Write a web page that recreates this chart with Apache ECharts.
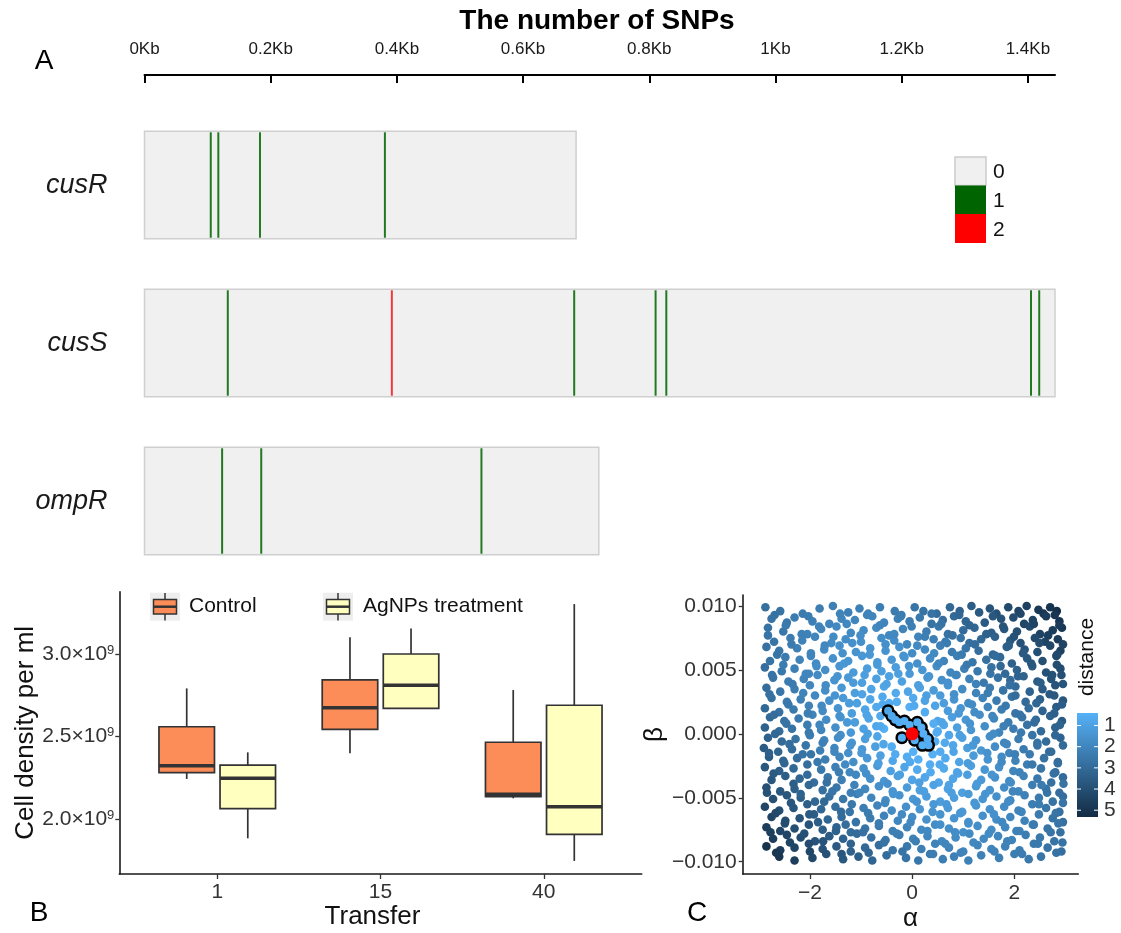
<!DOCTYPE html>
<html><head><meta charset="utf-8">
<script src="https://cdn.jsdelivr.net/npm/echarts@6/dist/echarts.min.js"></script>
<style>html,body{margin:0;padding:0;background:#fff}#c{width:1121px;height:933px}</style>
</head><body><div id="c"></div>
<script>
const FONT = '"Liberation Sans", Arial, Helvetica, sans-serif';
// ---------- Panel A : SNP positions ----------
const genes = ['cusR', 'cusS', 'ompR'];
const geneLengthKb = [0.684, 1.443, 0.720];
const snpGene = [0, 0, 0, 0, 1, 1, 1, 1, 1, 1, 1, 2, 2, 2];
const snpPosKb = [0.105, 0.117, 0.183, 0.381, 0.132, 0.392, 0.681, 0.810, 0.827, 1.405, 1.418, 0.123, 0.185, 0.534];
const snpCount = [1, 1, 1, 1, 1, 2, 1, 1, 1, 1, 1, 1, 1, 1];
const kbTicks = [0, 0.2, 0.4, 0.6, 0.8, 1.0, 1.2, 1.4];
const snpLevels = ['0', '1', '2'];
// ---------- Panel B : cell density boxplots [min, Q1, median, Q3, max] ----------
const transfers = ['1', '15', '40'];
const controlStats = [
  [2.244e9, 2.282e9, 2.324e9, 2.560e9, 2.792e9],
  [2.399e9, 2.544e9, 2.675e9, 2.843e9, 3.101e9],
  [2.127e9, 2.137e9, 2.151e9, 2.466e9, 2.782e9]
];
const agnpsStats = [
  [1.885e9, 2.064e9, 2.248e9, 2.328e9, 2.405e9],
  [2.671e9, 2.671e9, 2.811e9, 3.000e9, 3.155e9],
  [1.748e9, 1.909e9, 2.076e9, 2.690e9, 3.302e9]
];
const densityTicks = [2.0e9, 2.5e9, 3.0e9];
// ---------- Panel C : parameter search [alpha, beta, distance] ----------
const alphaTicks = [-2, 0, 2];
const betaTicks = [-0.01, -0.005, 0, 0.005, 0.01];
const distanceTicks = [1, 2, 3, 4, 5];
const distanceMin = 0.41, distanceMax = 5.32;
const searchPoints = [
[-2.87,0.0099,2.8],[-2.58,0.0096,2.7],[-2.14,0.0094,2.4],[-1.81,0.0098,2.3],[-1.55,0.0100,2.2],[-1.25,0.0095,2.2],[-1.03,0.0098,2.2],[-0.86,0.0094,2.2],[-0.63,0.0099,2.3],[-0.34,0.0096,2.4],[-0.21,0.0093,2.45],[0.05,0.0099,2.6],[0.22,0.0096,2.7],[0.48,0.0094,2.9],[0.74,0.0099,3.1],[0.93,0.0096,3.3],[1.16,0.0100,3.5],[1.31,0.0095,3.6],[1.52,0.0098,3.8],[1.65,0.0094,3.95],[1.88,0.0099,4.2],[2.08,0.0096,4.4],[2.24,0.0100,4.5],[2.47,0.0097,4.8],[2.57,0.0094,4.9],[2.70,0.0099,5.0],[2.83,0.0096,5.15],
[-2.75,0.0090,2.65],[-2.45,0.0087,2.5],[-2.30,0.0091,2.4],[-1.95,0.0088,2.2],[-1.62,0.0086,2.05],[-1.38,0.0090,2.0],[-1.12,0.0089,2.0],[-0.78,0.0092,2.0],[-0.55,0.0087,2.05],[-0.28,0.0090,2.2],[-0.05,0.0088,2.35],[0.15,0.0091,2.5],[0.38,0.0086,2.7],[0.60,0.0089,2.85],[0.82,0.0092,3.0],[1.05,0.0088,3.2],[1.42,0.0087,3.55],[1.74,0.0090,3.85],[1.98,0.0091,4.1],[2.19,0.0086,4.3],[2.36,0.0089,4.45],[2.62,0.0092,4.7],[2.88,0.0088,4.95],
[-2.82,0.0083,2.7],[-2.52,0.0080,2.5],[-2.05,0.0078,2.15],[-1.78,0.0082,2.0],[-1.48,0.0084,1.88],[-1.20,0.0079,1.85],[-0.95,0.0081,1.8],[-0.70,0.0083,1.85],[-0.45,0.0077,1.92],[-0.18,0.0082,2.05],[0.28,0.0080,2.35],[0.52,0.0084,2.55],[0.70,0.0078,2.7],[1.00,0.0081,2.95],[1.22,0.0083,3.15],[1.55,0.0079,3.45],[1.80,0.0082,3.7],[2.05,0.0080,4.0],[2.30,0.0084,4.2],[2.50,0.0078,4.45],[2.75,0.0081,4.7],[2.93,0.0083,4.85],
[-2.70,0.0072,2.6],[-2.38,0.0075,2.35],[-2.15,0.0073,2.15],[-1.90,0.0076,2.0],[-1.58,0.0071,1.8],[-1.30,0.0074,1.72],[-1.00,0.0072,1.65],[-0.60,0.0075,1.7],[-0.35,0.0073,1.78],[-0.10,0.0070,1.9],[0.12,0.0076,2.05],[0.42,0.0074,2.25],[0.65,0.0072,2.45],[0.95,0.0075,2.7],[1.12,0.0071,2.85],[1.35,0.0074,3.1],[1.62,0.0076,3.35],[1.92,0.0073,3.65],[2.12,0.0071,3.9],[2.40,0.0075,4.15],[2.60,0.0072,4.4],[2.85,0.0074,4.65],
[-2.85,0.0068,2.75],[-2.60,0.0065,2.55],[-2.25,0.0067,2.2],[-1.98,0.0063,2.0],[-1.72,0.0066,1.8],[-1.42,0.0069,1.63],[-1.10,0.0064,1.52],[-0.82,0.0067,1.48],[-0.52,0.0065,1.5],[-0.25,0.0068,1.6],[0.00,0.0063,1.75],[0.25,0.0066,1.92],[0.55,0.0069,2.2],[0.78,0.0064,2.38],[1.05,0.0067,2.6],[1.30,0.0065,2.85],[1.58,0.0062,3.13],[1.85,0.0068,3.42],[2.20,0.0066,3.8],[2.45,0.0064,4.05],[2.70,0.0069,4.3],[2.90,0.0065,4.5],
[-2.78,0.0057,2.7],[-2.48,0.0060,2.4],[-2.20,0.0058,2.1],[-1.88,0.0055,1.85],[-1.55,0.0059,1.6],[-1.25,0.0057,1.45],[-0.98,0.0061,1.33],[-0.68,0.0056,1.28],[-0.40,0.0058,1.33],[-0.15,0.0060,1.45],[0.10,0.0055,1.62],[0.35,0.0059,1.8],[0.62,0.0057,2.05],[0.88,0.0061,2.25],[1.18,0.0056,2.55],[1.45,0.0058,2.8],[1.72,0.0060,3.1],[1.95,0.0055,3.35],[2.25,0.0059,3.65],[2.55,0.0057,4.0],[2.82,0.0061,4.25],
[-2.88,0.0052,2.85],[-2.55,0.0049,2.5],[-2.30,0.0051,2.22],[-2.02,0.0047,1.98],[-1.70,0.0050,1.68],[-1.42,0.0053,1.45],[-1.15,0.0048,1.25],[-0.88,0.0051,1.15],[-0.60,0.0049,1.12],[-0.32,0.0052,1.15],[-0.05,0.0047,1.3],[0.20,0.0050,1.45],[0.48,0.0053,1.7],[0.75,0.0048,1.95],[1.02,0.0051,2.2],[1.28,0.0049,2.45],[1.55,0.0052,2.75],[1.82,0.0047,3.05],[2.05,0.0050,3.3],[2.35,0.0053,3.6],[2.62,0.0048,3.9],[2.90,0.0051,4.1],
[-2.72,0.0044,2.7],[-2.42,0.0041,2.35],[-2.12,0.0043,2.05],[-1.85,0.0046,1.8],[-1.52,0.0042,1.48],[-1.25,0.0044,1.28],[-0.98,0.0040,1.08],[-0.70,0.0043,1.0],[-0.45,0.0045,0.98],[-0.20,0.0041,1.0],[0.30,0.0044,1.36],[0.58,0.0042,1.62],[0.85,0.0046,1.88],[1.12,0.0043,2.15],[1.40,0.0040,2.45],[1.68,0.0044,2.75],[1.92,0.0042,3.0],[2.18,0.0045,3.28],[2.45,0.0041,3.55],[2.72,0.0043,3.85],[2.92,0.0046,4.0],
[-2.85,0.0036,2.9],[-2.58,0.0033,2.58],[-2.30,0.0035,2.28],[-2.00,0.0038,1.98],[-1.70,0.0034,1.68],[-1.38,0.0036,1.35],[-1.12,0.0032,1.12],[-0.80,0.0035,0.9],[-0.55,0.0037,0.85],[-0.08,0.0033,0.85],[0.15,0.0036,1.0],[0.42,0.0034,1.25],[0.70,0.0038,1.52],[0.98,0.0035,1.82],[1.25,0.0032,2.1],[1.52,0.0036,2.4],[1.78,0.0034,2.68],[2.02,0.0037,2.95],[2.30,0.0033,3.25],[2.55,0.0035,3.52],[2.80,0.0038,3.8],
[-2.75,0.0028,2.8],[-2.45,0.0025,2.45],[-2.18,0.0027,2.18],[-1.90,0.0030,1.88],[-1.62,0.0026,1.58],[-1.35,0.0028,1.3],[-1.08,0.0024,1.05],[-0.82,0.0027,0.85],[-0.58,0.0029,0.75],[-0.30,0.0025,0.6],[0.02,0.0028,0.7],[0.25,0.0026,0.92],[0.55,0.0030,1.22],[0.82,0.0027,1.48],[1.10,0.0024,1.78],[1.38,0.0028,2.08],[1.65,0.0026,2.38],[1.95,0.0029,2.72],[2.22,0.0025,3.0],[2.50,0.0027,3.35],[2.78,0.0030,3.62],[2.95,0.0026,3.75],
[-2.88,0.0020,3.07],[-2.60,0.0017,2.76],[-2.32,0.0019,2.44],[-2.02,0.0022,2.1],[-1.75,0.0018,1.8],[-1.45,0.0020,1.47],[-1.18,0.0016,1.16],[-0.92,0.0019,0.89],[-0.70,0.0021,0.72],[0.45,0.0022,0.9],[0.70,0.0018,1.17],[0.95,0.0020,1.43],[1.22,0.0017,1.74],[1.48,0.0021,2.03],[1.75,0.0019,2.33],[2.02,0.0016,2.64],[2.28,0.0020,2.93],[2.55,0.0018,3.25],[2.82,0.0021,3.55],
[-2.78,0.0013,3.05],[-2.50,0.0010,2.73],[-2.22,0.0012,2.41],[-1.95,0.0015,2.1],[-1.68,0.0011,1.78],[-1.40,0.0013,1.47],[-1.12,0.0009,1.16],[-0.85,0.0012,0.87],[-0.62,0.0014,0.68],[0.50,0.0010,0.8],[0.78,0.0013,1.1],[1.05,0.0011,1.41],[1.32,0.0015,1.72],[1.60,0.0012,2.03],[1.88,0.0009,2.36],[2.15,0.0013,2.66],[2.42,0.0011,2.98],[2.70,0.0014,3.3],[2.93,0.0010,3.55],
[-2.88,0.0005,3.27],[-2.60,0.0002,2.94],[-2.35,0.0004,2.66],[-2.05,0.0007,2.31],[-1.78,0.0003,2.0],[-1.50,0.0005,1.68],[-1.20,0.0001,1.33],[-0.95,0.0004,1.04],[-0.70,0.0006,0.8],[0.50,0.0002,0.67],[0.62,0.0007,0.8],[0.88,0.0005,1.08],[1.15,0.0003,1.39],[1.42,0.0006,1.7],[1.70,0.0001,2.03],[1.98,0.0004,2.34],[2.25,0.0007,2.65],[2.52,0.0002,2.97],[2.80,0.0005,3.3],
[-2.82,-0.0003,3.32],[-2.55,-0.0006,3.0],[-2.28,-0.0004,2.69],[-2.00,-0.0001,2.36],[-1.72,-0.0005,2.04],[-1.45,-0.0003,1.73],[-1.18,-0.0007,1.42],[-0.92,-0.0004,1.12],[-0.68,-0.0002,0.85],[0.45,-0.0006,0.58],[0.72,-0.0001,0.82],[0.98,-0.0003,1.07],[1.25,-0.0005,1.39],[1.52,-0.0002,1.7],[1.80,-0.0007,2.03],[2.08,-0.0004,2.35],[2.35,-0.0001,2.66],[2.62,-0.0006,2.97],[2.90,-0.0003,3.29],
[-2.90,-0.0011,3.53],[-2.62,-0.0014,3.21],[-2.35,-0.0012,2.9],[-2.08,-0.0009,2.58],[-1.80,-0.0013,2.26],[-1.52,-0.0011,1.94],[-1.25,-0.0015,1.64],[-0.98,-0.0012,1.33],[-0.72,-0.0010,1.05],[0.55,-0.0014,0.65],[0.80,-0.0009,0.83],[1.08,-0.0011,1.11],[1.35,-0.0013,1.41],[1.62,-0.0010,1.72],[1.90,-0.0015,2.04],[2.18,-0.0012,2.36],[2.45,-0.0009,2.67],[2.72,-0.0014,2.98],
[-2.80,-0.0018,3.53],[-2.52,-0.0021,3.2],[-2.25,-0.0019,2.9],[-1.98,-0.0016,2.6],[-1.70,-0.0020,2.28],[-1.42,-0.0018,1.96],[-1.15,-0.0022,1.66],[-0.88,-0.0019,1.36],[-0.62,-0.0017,1.08],[-0.38,-0.0021,0.83],[-0.10,-0.0018,0.64],[0.12,-0.0020,0.52],[0.40,-0.0016,0.5],[0.65,-0.0019,0.68],[0.92,-0.0022,0.89],[1.20,-0.0017,1.2],[1.48,-0.0020,1.5],[1.75,-0.0018,1.8],[2.02,-0.0021,2.1],[2.30,-0.0016,2.42],[2.58,-0.0019,2.73],[2.85,-0.0022,3.04],
[-2.88,-0.0026,3.7],[-2.60,-0.0029,3.4],[-2.32,-0.0027,3.1],[-2.05,-0.0024,2.85],[-1.78,-0.0028,2.5],[-1.50,-0.0026,2.2],[-1.22,-0.0030,1.9],[-0.95,-0.0027,1.6],[-0.68,-0.0025,1.35],[-0.42,-0.0029,1.05],[-0.15,-0.0026,0.85],[0.10,-0.0028,0.72],[0.35,-0.0024,0.6],[0.62,-0.0027,0.7],[0.88,-0.0030,0.88],[1.15,-0.0025,1.12],[1.42,-0.0028,1.4],[1.70,-0.0026,1.68],[1.98,-0.0029,2.0],[2.25,-0.0024,2.28],[2.52,-0.0027,2.6],[2.80,-0.0030,2.9],
[-2.75,-0.0036,3.75],[-2.48,-0.0033,3.45],[-2.20,-0.0035,3.15],[-1.92,-0.0038,2.85],[-1.65,-0.0034,2.55],[-1.38,-0.0036,2.25],[-1.10,-0.0032,1.95],[-0.82,-0.0035,1.65],[-0.55,-0.0037,1.4],[-0.28,-0.0033,1.12],[0.00,-0.0036,0.95],[0.25,-0.0034,0.8],[0.52,-0.0038,0.82],[0.80,-0.0035,0.9],[1.08,-0.0032,1.1],[1.35,-0.0036,1.32],[1.62,-0.0034,1.58],[1.90,-0.0037,1.85],[2.18,-0.0033,2.15],[2.45,-0.0035,2.45],[2.72,-0.0038,2.75],[2.95,-0.0034,2.95],
[-2.85,-0.0042,4.0],[-2.58,-0.0045,3.72],[-2.30,-0.0043,3.4],[-2.02,-0.0040,3.1],[-1.75,-0.0044,2.8],[-1.48,-0.0042,2.52],[-1.20,-0.0046,2.2],[-0.92,-0.0043,1.92],[-0.65,-0.0041,1.65],[-0.38,-0.0045,1.42],[-0.10,-0.0042,1.22],[0.15,-0.0044,1.08],[0.42,-0.0040,0.98],[0.70,-0.0043,1.0],[0.98,-0.0046,1.08],[1.25,-0.0041,1.28],[1.52,-0.0044,1.48],[1.80,-0.0042,1.75],[2.08,-0.0045,2.02],[2.35,-0.0040,2.3],[2.62,-0.0043,2.6],[2.88,-0.0046,2.85],
[-2.72,-0.0051,4.0],[-2.45,-0.0048,3.75],[-2.18,-0.0050,3.45],[-1.90,-0.0053,3.1],[-1.62,-0.0049,2.8],[-1.35,-0.0051,2.55],[-1.08,-0.0047,2.25],[-0.80,-0.0050,2.0],[-0.52,-0.0052,1.72],[-0.25,-0.0048,1.5],[0.02,-0.0051,1.35],[0.28,-0.0049,1.18],[0.55,-0.0053,1.15],[0.82,-0.0050,1.15],[1.10,-0.0047,1.25],[1.38,-0.0051,1.42],[1.65,-0.0049,1.62],[1.92,-0.0052,1.88],[2.20,-0.0048,2.12],[2.48,-0.0050,2.42],[2.75,-0.0053,2.7],[2.95,-0.0049,2.85],
[-2.88,-0.0057,4.3],[-2.60,-0.0060,4.05],[-2.32,-0.0058,3.75],[-2.05,-0.0055,3.45],[-1.78,-0.0059,3.15],[-1.50,-0.0057,2.87],[-1.22,-0.0061,2.6],[-0.95,-0.0058,2.3],[-0.68,-0.0056,2.05],[-0.40,-0.0060,1.82],[-0.12,-0.0057,1.62],[0.15,-0.0059,1.45],[0.42,-0.0055,1.35],[0.70,-0.0058,1.3],[0.98,-0.0061,1.32],[1.25,-0.0056,1.45],[1.52,-0.0059,1.58],[1.80,-0.0057,1.8],[2.08,-0.0060,2.02],[2.35,-0.0055,2.3],[2.62,-0.0058,2.55],[2.88,-0.0061,2.8],
[-2.75,-0.0065,4.4],[-2.48,-0.0068,4.1],[-2.20,-0.0066,3.8],[-1.92,-0.0063,3.5],[-1.65,-0.0067,3.2],[-1.38,-0.0065,2.95],[-1.10,-0.0069,2.65],[-0.82,-0.0066,2.4],[-0.55,-0.0064,2.15],[-0.28,-0.0068,1.95],[0.00,-0.0065,1.78],[0.28,-0.0067,1.6],[0.55,-0.0063,1.52],[0.82,-0.0066,1.48],[1.10,-0.0069,1.52],[1.38,-0.0064,1.62],[1.65,-0.0067,1.75],[1.92,-0.0065,1.95],[2.20,-0.0068,2.15],[2.48,-0.0063,2.4],[2.75,-0.0066,2.65],[2.95,-0.0069,2.8],
[-2.85,-0.0073,4.65],[-2.58,-0.0076,4.35],[-2.30,-0.0074,4.05],[-2.02,-0.0071,3.8],[-1.75,-0.0075,3.5],[-1.48,-0.0073,3.22],[-1.20,-0.0077,2.95],[-0.92,-0.0074,2.68],[-0.65,-0.0072,2.45],[-0.38,-0.0076,2.22],[-0.10,-0.0073,2.05],[0.18,-0.0075,1.88],[0.45,-0.0071,1.75],[0.72,-0.0074,1.68],[1.00,-0.0077,1.65],[1.28,-0.0072,1.7],[1.55,-0.0075,1.78],[1.82,-0.0073,1.95],[2.10,-0.0076,2.13],[2.38,-0.0071,2.35],[2.65,-0.0074,2.6],[2.90,-0.0077,2.8],
[-2.72,-0.0082,4.7],[-2.45,-0.0079,4.4],[-2.18,-0.0081,4.1],[-1.90,-0.0084,3.8],[-1.62,-0.0080,3.55],[-1.35,-0.0082,3.25],[-1.08,-0.0078,3.0],[-0.80,-0.0081,2.75],[-0.52,-0.0083,2.55],[-0.25,-0.0079,2.3],[0.02,-0.0082,2.15],[0.30,-0.0080,1.97],[0.58,-0.0084,1.9],[0.85,-0.0081,1.82],[1.12,-0.0078,1.82],[1.40,-0.0082,1.86],[1.68,-0.0080,1.95],[1.95,-0.0083,2.1],[2.22,-0.0079,2.28],[2.50,-0.0081,2.5],[2.78,-0.0084,2.7],
[-2.85,-0.0088,5.0],[-2.58,-0.0091,4.7],[-2.30,-0.0089,4.4],[-2.02,-0.0086,4.1],[-1.75,-0.0090,3.85],[-1.48,-0.0088,3.58],[-1.20,-0.0092,3.3],[-0.92,-0.0089,3.05],[-0.65,-0.0087,2.85],[-0.38,-0.0091,2.62],[-0.10,-0.0088,2.45],[0.18,-0.0090,2.25],[0.45,-0.0086,2.12],[0.72,-0.0089,2.05],[1.00,-0.0092,2.0],[1.28,-0.0087,2.0],[1.55,-0.0090,2.04],[1.82,-0.0088,2.12],[2.10,-0.0091,2.28],[2.38,-0.0086,2.45],[2.65,-0.0089,2.65],[2.92,-0.0092,2.85],
[-2.60,-0.0096,4.9],[-2.30,-0.0099,4.6],[-1.95,-0.0097,4.25],[-1.68,-0.0094,3.95],[-1.35,-0.0098,3.65],[-1.05,-0.0096,3.4],[-0.78,-0.0099,3.15],[-0.50,-0.0095,2.92],[-0.12,-0.0097,2.65],[0.12,-0.0099,2.52],[0.35,-0.0094,2.38],[0.60,-0.0098,2.28],[0.82,-0.0096,2.2],[1.10,-0.0099,2.17],[1.35,-0.0095,2.17],[1.70,-0.0097,2.22],[2.00,-0.0094,2.33],[2.28,-0.0098,2.48],[2.52,-0.0096,2.62],
[-0.45,0.0024,0.62],[-0.05,0.0021,0.5],[0.25,0.0017,0.6],[-0.55,0.0004,0.5],[-0.40,-0.0010,0.6],[0.02,-0.0014,0.45],[0.42,0.0008,0.55],
[-2.69,0.0093,2.72],[-2.03,0.0092,2.33],[-1.41,0.0094,2.10],[-0.88,0.0093,2.08],[-0.22,0.0092,2.29],[0.38,0.0094,2.66],[0.92,0.0093,3.15],[1.58,0.0092,3.70],[2.12,0.0094,4.30],[2.79,0.0093,4.91],
[-2.47,0.0085,2.45],[-1.82,0.0084,2.09],[-1.28,0.0086,1.93],[-0.63,0.0085,1.99],[-0.01,0.0084,2.26],[0.57,0.0086,2.70],[1.12,0.0085,3.23],[1.78,0.0084,3.81],[2.38,0.0086,4.42],[2.88,0.0085,4.73],
[-2.82,0.0077,2.63],[-2.16,0.0078,2.16],[-1.54,0.0076,1.82],[-1.01,0.0077,1.72],[-0.35,0.0078,1.88],[0.25,0.0076,2.26],[0.79,0.0077,2.76],[1.45,0.0078,3.32],[1.99,0.0076,3.94],[2.66,0.0077,4.57],
[-2.36,0.0070,2.36],[-1.71,0.0069,1.91],[-1.17,0.0071,1.63],[-0.52,0.0070,1.62],[0.10,0.0069,1.87],[0.68,0.0071,2.32],[1.23,0.0070,2.86],[1.89,0.0069,3.46],[2.49,0.0071,4.09],[2.95,0.0070,4.41],
[-2.64,0.0062,2.61],[-1.98,0.0061,2.06],[-1.36,0.0063,1.61],[-0.83,0.0062,1.38],[-0.17,0.0061,1.47],[0.43,0.0063,1.85],[0.97,0.0062,2.37],[1.63,0.0061,2.96],[2.17,0.0063,3.59],[2.84,0.0062,4.24],
[-2.52,0.0054,2.33],[-1.87,0.0053,1.78],[-1.33,0.0055,1.38],[-0.68,0.0054,1.25],[-0.06,0.0053,1.46],[0.52,0.0055,1.91],[1.07,0.0054,2.48],[1.73,0.0053,3.10],[2.33,0.0055,3.75],[2.83,0.0054,4.08],
[-2.74,0.0046,2.65],[-2.08,0.0047,2.03],[-1.46,0.0045,1.48],[-0.93,0.0046,1.09],[-0.27,0.0047,1.08],[0.33,0.0045,1.45],[0.87,0.0046,2.0],[1.53,0.0047,2.61],[2.07,0.0045,3.26],[2.74,0.0046,3.93],
[-2.34,0.0039,2.38],[-1.69,0.0038,1.75],[-1.15,0.0040,1.22],[-0.50,0.0039,0.94],[0.12,0.0038,1.07],[0.70,0.0040,1.54],[1.25,0.0039,2.14],[1.91,0.0038,2.78],[2.51,0.0040,3.45],[2.95,0.0039,3.78],
[-2.79,0.0031,2.76],[-2.13,0.0032,2.10],[-1.51,0.0030,1.46],[-0.98,0.0031,0.91],[-0.32,0.0032,0.70],[0.28,0.0030,1.05],[0.82,0.0031,1.64],[1.48,0.0032,2.28],[2.02,0.0030,2.95],[2.69,0.0031,3.63],
[-2.42,0.0023,2.49],[-1.77,0.0022,1.83],[-1.23,0.0024,1.19],[-0.58,0.0023,0.69],[0.04,0.0022,0.68],[0.62,0.0024,1.16],[1.17,0.0023,1.79],[1.83,0.0022,2.46],[2.43,0.0024,3.15],[2.93,0.0023,3.49],
[-2.70,0.0015,2.91],[-2.04,0.0016,2.23],[-1.42,0.0014,1.55],[-0.89,0.0015,0.89],[0.91,0.0016,1.31],[1.57,0.0014,1.98],[2.11,0.0015,2.67],[2.78,0.0016,3.36],
[-2.46,0.0008,2.67],[-1.81,0.0007,1.98],[-1.27,0.0009,1.29],[-0.62,0.0006,0.70],[0.58,0.0009,0.84],[1.13,0.0008,1.51],[1.79,0.0006,2.20],[2.39,0.0009,2.89],[2.89,0.0007,3.24],
[-2.68,0.0000,3.12],[-2.02,0.0001,2.42],[-1.40,-0.0001,1.73],[-0.87,0.0000,1.04],[0.48,0.0001,0.55],[0.93,-0.0001,1.04],[1.59,0.0000,1.73],[2.13,0.0001,2.42],[2.80,-0.0001,3.12],
[-2.40,-0.0008,2.89],[-1.75,-0.0007,2.20],[-1.21,-0.0009,1.51],[-0.56,-0.0008,0.84],[0.64,-0.0007,0.70],[1.19,-0.0009,1.29],[1.85,-0.0008,1.98],[2.45,-0.0007,2.67],[2.95,-0.0009,3.01],
[-2.80,-0.0015,3.36],[-2.14,-0.0016,2.67],[-1.52,-0.0014,1.98],[-0.99,-0.0015,1.31],[-0.33,-0.0016,0.66],[0.81,-0.0014,0.89],[1.47,-0.0015,1.55],[2.01,-0.0016,2.23],[2.68,-0.0014,2.91],
[-2.50,-0.0023,3.15],[-1.85,-0.0022,2.46],[-1.31,-0.0024,1.79],[-0.66,-0.0023,1.16],[-0.04,-0.0022,0.68],[0.54,-0.0024,0.69],[1.09,-0.0023,1.19],[1.75,-0.0022,1.83],[2.35,-0.0024,2.49],[2.85,-0.0023,2.83],
[-2.71,-0.0031,3.63],[-2.05,-0.0032,2.95],[-1.43,-0.0030,2.28],[-0.90,-0.0031,1.64],[-0.24,-0.0032,1.05],[0.36,-0.0030,0.70],[0.90,-0.0031,0.91],[1.56,-0.0032,1.46],[2.10,-0.0030,2.10],[2.77,-0.0031,2.76],
[-2.32,-0.0039,3.45],[-1.67,-0.0038,2.78],[-1.13,-0.0040,2.14],[-0.48,-0.0039,1.54],[0.14,-0.0038,1.07],[0.72,-0.0040,0.94],[1.27,-0.0039,1.22],[1.93,-0.0038,1.75],[2.53,-0.0040,2.38],[2.96,-0.0039,2.70],
[-2.84,-0.0046,3.93],[-2.18,-0.0047,3.26],[-1.56,-0.0045,2.61],[-1.03,-0.0046,2.0],[-0.37,-0.0047,1.45],[0.23,-0.0045,1.08],[0.77,-0.0046,1.09],[1.43,-0.0047,1.48],[1.97,-0.0045,2.03],[2.64,-0.0046,2.65],
[-2.37,-0.0054,3.75],[-1.72,-0.0053,3.10],[-1.18,-0.0055,2.48],[-0.53,-0.0054,1.91],[0.09,-0.0053,1.46],[0.67,-0.0055,1.25],[1.22,-0.0054,1.38],[1.88,-0.0053,1.78],[2.48,-0.0055,2.33],[2.95,-0.0054,2.63],
[-2.67,-0.0062,4.24],[-2.01,-0.0063,3.59],[-1.39,-0.0061,2.96],[-0.86,-0.0062,2.37],[-0.20,-0.0063,1.85],[0.40,-0.0061,1.47],[0.94,-0.0062,1.38],[1.60,-0.0063,1.61],[2.14,-0.0061,2.06],[2.81,-0.0062,2.61],
[-2.49,-0.0070,4.09],[-1.84,-0.0069,3.46],[-1.30,-0.0071,2.86],[-0.65,-0.0070,2.32],[-0.03,-0.0069,1.87],[0.55,-0.0071,1.62],[1.10,-0.0070,1.63],[1.76,-0.0069,1.91],[2.36,-0.0071,2.36],[2.86,-0.0070,2.61],
[-2.77,-0.0077,4.57],[-2.11,-0.0078,3.94],[-1.49,-0.0076,3.32],[-0.96,-0.0077,2.76],[-0.30,-0.0078,2.26],[0.30,-0.0076,1.88],[0.84,-0.0077,1.72],[1.50,-0.0078,1.82],[2.04,-0.0076,2.16],[2.71,-0.0077,2.63],
[-2.39,-0.0085,4.42],[-1.74,-0.0084,3.81],[-1.20,-0.0086,3.23],[-0.55,-0.0085,2.70],[0.07,-0.0084,2.26],[0.65,-0.0086,1.99],[1.20,-0.0085,1.93],[1.86,-0.0084,2.09],[2.46,-0.0086,2.45],[2.94,-0.0085,2.67],
[-2.66,-0.0093,4.91],[-2.00,-0.0092,4.30],[-1.38,-0.0094,3.70],[-0.85,-0.0093,3.15],[-0.19,-0.0092,2.66],[0.41,-0.0094,2.29],[0.95,-0.0093,2.08],[1.61,-0.0092,2.10],[2.15,-0.0094,2.33],[2.82,-0.0093,2.72]
];
const acceptedPoints = [
[-0.47,0.0018,0.9],[-0.40,0.0014,0.75],[-0.33,0.0011,0.65],[-0.25,0.0009,0.55],[-0.15,0.0010,0.5],[-0.05,0.0007,0.45],[0.10,0.0009,0.5],[0.18,0.0005,0.48],[0.22,0.0000,0.45],[0.30,-0.0004,0.5],[0.32,-0.0009,0.55],[-0.20,-0.0003,0.45],[0.05,-0.0005,0.45],[0.20,-0.0009,0.5]
];
const truePoint = [[0, 0]];

// ---------- helpers ----------
const BOX_HALF = 0.17, BOX_OFFSET = 0.187;
function boxRenderer(offset, fill) {
  return function (params, api) {
    const x = api.value(0) + offset;
    const top = api.coord([x, api.value(5)]), q3 = api.coord([x, api.value(4)]),
          med = api.coord([x, api.value(3)]), q1 = api.coord([x, api.value(2)]),
          bot = api.coord([x, api.value(1)]);
    const hw = api.size([BOX_HALF, 0])[0];
    const cx = med[0];
    const st = { stroke: '#333', lineWidth: 1.7 };
    return { type: 'group', children: [
      { type: 'line', shape: { x1: cx, y1: top[1], x2: cx, y2: q3[1] }, style: st },
      { type: 'line', shape: { x1: cx, y1: q1[1], x2: cx, y2: bot[1] }, style: st },
      { type: 'rect', shape: { x: cx - hw, y: q3[1], width: 2 * hw, height: q1[1] - q3[1] }, style: { fill: fill, stroke: '#333', lineWidth: 1.7 } },
      { type: 'line', shape: { x1: cx - hw, y1: med[1], x2: cx + hw, y2: med[1] }, style: { stroke: '#333', lineWidth: 3.6 } }
    ] };
  };
}
const minus = v => (v < 0 ? '\u2212' : '') + Math.abs(v);
const CONTROL_COLOR = '#FC8D59', AGNPS_COLOR = '#FFFFBF';
const snpColors = ['#f0f0f0', '#006400', '#ff0000'];

const chart = echarts.init(document.getElementById('c'), null, { renderer: 'canvas' });
chart.setOption({
  animation: false,
  backgroundColor: '#fff',
  textStyle: { fontFamily: FONT },
  grid: [
    { left: 144.5, top: 106, width: 910.5, height: 474 },
    { left: 119.3, top: 591.7, width: 522.4, height: 282.3 },
    { left: 742.7, top: 595, width: 335.6, height: 279 },
    { left: 1077, top: 713, width: 21, height: 104 }
  ],
  xAxis: [
    { gridIndex: 0, type: 'value', position: 'top', offset: 31, min: 0, max: 1.443,
      axisLine: { show: true, onZero: false, lineStyle: { color: '#000', width: 2 } },
      axisTick: { show: true, inside: true, length: 8, customValues: kbTicks, lineStyle: { color: '#000', width: 2 } },
      axisLabel: { customValues: kbTicks, formatter: v => (+v.toFixed(1)) + 'Kb', fontSize: 17, color: '#1a1a1a', margin: 17 },
      splitLine: { show: false } },
    { gridIndex: 1, type: 'value', min: 0.4, max: 3.6,
      axisLine: { onZero: false, lineStyle: { color: '#1a1a1a', width: 1.6 } },
      axisTick: { length: 5, customValues: [1, 2, 3], lineStyle: { color: '#333', width: 1.3 } },
      axisLabel: { customValues: [1, 2, 3], formatter: v => transfers[Math.round(v) - 1], fontSize: 21, color: '#333', margin: 8 },
      splitLine: { show: false },
      name: 'Transfer', nameLocation: 'middle', nameGap: 29, nameTextStyle: { fontSize: 26, color: '#111', padding: [0, 16, 0, 0] } },
    { gridIndex: 2, type: 'value', min: -3.314, max: 3.25,
      axisLine: { onZero: false, lineStyle: { color: '#1a1a1a', width: 1.6 } },
      axisTick: { length: 5, customValues: alphaTicks, lineStyle: { color: '#333', width: 1.3 } },
      axisLabel: { customValues: alphaTicks, formatter: minus, fontSize: 21, color: '#333', margin: 9 },
      splitLine: { show: false },
      name: '\u03b1', nameLocation: 'middle', nameGap: 32, nameTextStyle: { fontSize: 26, color: '#111' } },
    { gridIndex: 3, type: 'value', min: 0, max: 1, show: false }
  ],
  yAxis: [
    { gridIndex: 0, type: 'category', data: genes, inverse: true,
      axisLine: { show: false }, axisTick: { show: false }, splitLine: { show: false },
      axisLabel: { fontSize: 27, fontStyle: 'italic', color: '#1a1a1a', margin: 37 } },
    { gridIndex: 1, type: 'value', min: 1.669e9, max: 3.377e9,
      axisLine: { show: true, onZero: false, lineStyle: { color: '#1a1a1a', width: 1.6 } },
      axisTick: { show: true, length: 4, customValues: densityTicks, lineStyle: { color: '#333', width: 1.3 } },
      axisLabel: { customValues: densityTicks, margin: 5, color: '#333',
        formatter: v => '{n|' + (v / 1e9).toFixed(1) + '\u00d710}{s|9}',
        rich: { n: { fontSize: 21, color: '#333', fontFamily: FONT }, s: { fontSize: 13, color: '#333', verticalAlign: 'top', fontFamily: FONT } } },
      splitLine: { show: false },
      name: 'Cell density per ml', nameLocation: 'middle', nameGap: 77, nameTextStyle: { fontSize: 26, color: '#111' } },
    { gridIndex: 2, type: 'value', min: -0.01096, max: 0.01086,
      axisLine: { show: true, onZero: false, lineStyle: { color: '#1a1a1a', width: 1.6 } },
      axisTick: { show: true, length: 4, customValues: betaTicks, lineStyle: { color: '#333', width: 1.3 } },
      axisLabel: { customValues: betaTicks, margin: 6, color: '#333', fontSize: 21,
        formatter: v => (v < 0 ? '\u2212' : '') + Math.abs(v).toFixed(3) },
      splitLine: { show: false },
      name: '\u03b2', nameLocation: 'middle', nameGap: 62, nameTextStyle: { fontSize: 26, color: '#111' } },
    { gridIndex: 3, type: 'value', min: distanceMin, max: distanceMax, inverse: true, position: 'right',
      axisLine: { show: false }, axisTick: { show: false }, splitLine: { show: false },
      axisLabel: { customValues: distanceTicks, margin: 6, fontSize: 21, color: '#333' } }
  ],
  visualMap: [{
    show: false, type: 'continuous', min: distanceMin, max: distanceMax, dimension: 2,
    seriesIndex: [4, 6], inRange: { color: ['#56B1F7', '#132B43'] }
  }],
  series: [
    { type: 'custom', name: 'genes', xAxisIndex: 0, yAxisIndex: 0,
      data: genes.map((g, i) => [0, geneLengthKb[i], i]), encode: { x: [0, 1], y: 2 },
      renderItem: (params, api) => {
        const s = api.coord([api.value(0), api.value(2)]);
        const e = api.coord([api.value(1), api.value(2)]);
        const h = api.size([0, 1])[1] * 0.68;
        return { type: 'rect', shape: { x: s[0], y: s[1] - h / 2, width: e[0] - s[0], height: h },
                 style: { fill: '#f0f0f0', stroke: '#cfcfcf', lineWidth: 1.5 } };
      } },
    { type: 'custom', name: 'SNPs', xAxisIndex: 0, yAxisIndex: 0, z: 3,
      data: snpPosKb.map((p, i) => [p, snpGene[i], snpCount[i]]), encode: { x: 0, y: 1 },
      renderItem: (params, api) => {
        const c = api.coord([api.value(0), api.value(1)]);
        const h = api.size([0, 1])[1] * 0.68;
        return { type: 'line', shape: { x1: c[0], y1: c[1] - h / 2 + 1, x2: c[0], y2: c[1] + h / 2 - 1 },
                 style: { stroke: api.value(2) === 2 ? '#f03a3a' : '#217a21', lineWidth: 2 } };
      } },
    { type: 'custom', name: 'Control', xAxisIndex: 1, yAxisIndex: 1,
      data: controlStats.map((s, i) => [i + 1].concat(s)), encode: { x: 0, y: [1, 2, 3, 4, 5] },
      renderItem: boxRenderer(-BOX_OFFSET, CONTROL_COLOR) },
    { type: 'custom', name: 'AgNPs treatment', xAxisIndex: 1, yAxisIndex: 1,
      data: agnpsStats.map((s, i) => [i + 1].concat(s)), encode: { x: 0, y: [1, 2, 3, 4, 5] },
      renderItem: boxRenderer(BOX_OFFSET, AGNPS_COLOR) },
    { type: 'scatter', name: 'search', xAxisIndex: 2, yAxisIndex: 2, data: searchPoints,
      symbolSize: 8.6, itemStyle: { opacity: 1 }, z: 2 },
    { type: 'scatter', name: 'accepted-outline', xAxisIndex: 2, yAxisIndex: 2, data: acceptedPoints,
      symbolSize: 13, itemStyle: { color: '#000', opacity: 1 }, z: 3 },
    { type: 'scatter', name: 'accepted', xAxisIndex: 2, yAxisIndex: 2, data: acceptedPoints,
      symbolSize: 8, itemStyle: { opacity: 1 }, z: 4 },
    { type: 'scatter', name: 'truth', xAxisIndex: 2, yAxisIndex: 2, data: truePoint,
      symbolSize: 13, itemStyle: { color: '#ff0000', opacity: 1 }, z: 5 },
    { type: 'custom', name: 'colorbar', xAxisIndex: 3, yAxisIndex: 3, data: [[0.5, 3]], encode: { x: 0, y: 1 },
      renderItem: (params, api) => {
        const p0 = api.coord([0, distanceMin]), p1 = api.coord([1, distanceMax]);
        const kids = [{ type: 'rect', shape: { x: p0[0], y: p0[1], width: p1[0] - p0[0], height: p1[1] - p0[1] },
          style: { fill: new echarts.graphic.LinearGradient(0, 0, 0, 1, [{ offset: 0, color: '#56B1F7' }, { offset: 1, color: '#132B43' }]) } }];
        distanceTicks.forEach(t => {
          const y = api.coord([0, t])[1];
          kids.push({ type: 'line', shape: { x1: p0[0], y1: y, x2: p0[0] + 4, y2: y }, style: { stroke: '#fff', lineWidth: 1 } });
          kids.push({ type: 'line', shape: { x1: p1[0] - 4, y1: y, x2: p1[0], y2: y }, style: { stroke: '#fff', lineWidth: 1 } });
        });
        return { type: 'group', children: kids };
      } }
  ],
  graphic: [
    { type: 'text', x: 597, y: 21, style: { text: 'The number of SNPs', fontSize: 28, fontWeight: 'bold', fontFamily: FONT, fill: '#000', align: 'center', verticalAlign: 'middle' } },
    { type: 'text', x: 44, y: 61, style: { text: 'A', fontSize: 28, fontFamily: FONT, fill: '#000', align: 'center', verticalAlign: 'middle' } },
    { type: 'text', x: 39, y: 913, style: { text: 'B', fontSize: 28, fontFamily: FONT, fill: '#000', align: 'center', verticalAlign: 'middle' } },
    { type: 'text', x: 697, y: 913, style: { text: 'C', fontSize: 28, fontFamily: FONT, fill: '#000', align: 'center', verticalAlign: 'middle' } },
    // Panel A legend
    { type: 'rect', shape: { x: 955, y: 157, width: 31, height: 28.5 }, style: { fill: snpColors[0], stroke: '#cccccc', lineWidth: 1.5 } },
    { type: 'rect', shape: { x: 955, y: 185.5, width: 31, height: 28.5 }, style: { fill: snpColors[1] } },
    { type: 'rect', shape: { x: 955, y: 214, width: 31, height: 29 }, style: { fill: snpColors[2] } },
    { type: 'text', x: 993, y: 172, style: { text: snpLevels[0], fontSize: 21, fontFamily: FONT, fill: '#111', verticalAlign: 'middle' } },
    { type: 'text', x: 993, y: 201, style: { text: snpLevels[1], fontSize: 21, fontFamily: FONT, fill: '#111', verticalAlign: 'middle' } },
    { type: 'text', x: 993, y: 230, style: { text: snpLevels[2], fontSize: 21, fontFamily: FONT, fill: '#111', verticalAlign: 'middle' } },
    // Panel B legend
    { type: 'rect', shape: { x: 150, y: 592.7, width: 30, height: 28 }, style: { fill: '#eeeeee' } },
    { type: 'line', shape: { x1: 165, y1: 593, x2: 165, y2: 620.5 }, style: { stroke: '#333', lineWidth: 1.5 } },
    { type: 'rect', shape: { x: 153.5, y: 599.5, width: 23, height: 14.5 }, style: { fill: CONTROL_COLOR, stroke: '#333', lineWidth: 1.5 } },
    { type: 'line', shape: { x1: 153.5, y1: 606.7, x2: 176.5, y2: 606.7 }, style: { stroke: '#333', lineWidth: 2.5 } },
    { type: 'text', x: 189, y: 606, style: { text: 'Control', fontSize: 21, fontFamily: FONT, fill: '#111', verticalAlign: 'middle' } },
    { type: 'rect', shape: { x: 323, y: 592.7, width: 30, height: 28 }, style: { fill: '#eeeeee' } },
    { type: 'line', shape: { x1: 338, y1: 593, x2: 338, y2: 620.5 }, style: { stroke: '#333', lineWidth: 1.5 } },
    { type: 'rect', shape: { x: 326.5, y: 599.5, width: 23, height: 14.5 }, style: { fill: AGNPS_COLOR, stroke: '#333', lineWidth: 1.5 } },
    { type: 'line', shape: { x1: 326.5, y1: 606.7, x2: 349.5, y2: 606.7 }, style: { stroke: '#333', lineWidth: 2.5 } },
    { type: 'text', x: 363, y: 606, style: { text: 'AgNPs treatment', fontSize: 21, fontFamily: FONT, fill: '#111', verticalAlign: 'middle' } },
    // Panel C colorbar title
    { type: 'text', x: 1087, y: 657, rotation: Math.PI / 2, style: { text: 'distance', fontSize: 21, fontFamily: FONT, fill: '#111', align: 'center', verticalAlign: 'middle' } }
  ]
});
</script>
</body></html>
